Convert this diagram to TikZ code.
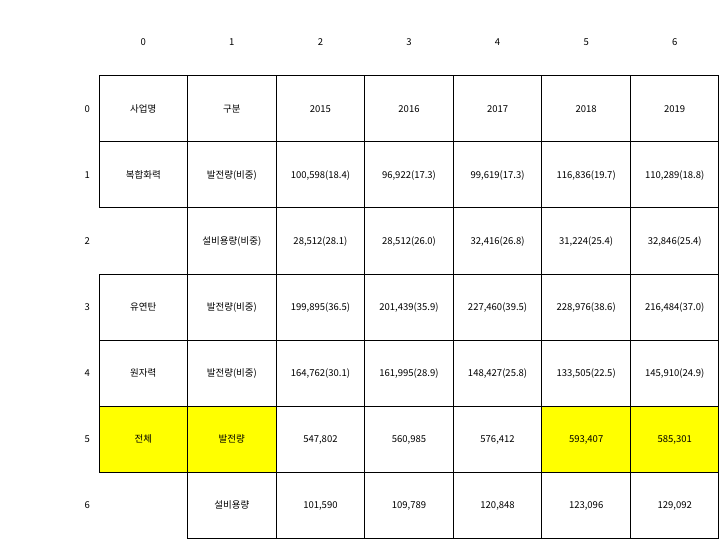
\documentclass[tikz,border=0pt]{standalone}
\usepackage{fontspec}
\setmainfont{Noto Sans CJK KR}
\definecolor{hlyellow}{RGB}{255,255,0}
\begin{document}
\begin{tikzpicture}[x=1pt,y=-1pt,
  cell/.style={draw=black,line width=1pt,rectangle,minimum width=88.57pt,minimum height=66pt,inner sep=0pt,text height=6.8pt,text depth=-1.6pt,font=\fontsize{9.5}{11}\selectfont},
  hl/.style={cell,fill=hlyellow},
  lab/.style={inner sep=0pt,text height=6.8pt,text depth=-1.6pt,font=\fontsize{9.5}{11}\selectfont}]
\useasboundingbox (0,0) rectangle (728,548);
% column headers
\foreach \c in {0,...,6} \node[lab] (h\c) at ({99+88.57*\c+44.285},42) {\c};
% row labels
\foreach \r in {0,...,6} \node[lab,anchor=east] (r\r) at (90,{76+66*\r+33}) {\r};
% cells
\foreach \r/\c/\t/\s in {
 0/0/사업명/cell, 0/1/구분/cell, 0/2/2015/cell, 0/3/2016/cell, 0/4/2017/cell, 0/5/2018/cell, 0/6/2019/cell,
 1/0/복합화력/cell, 1/1/발전량(비중)/cell, 1/2/{100,598(18.4)}/cell, 1/3/{96,922(17.3)}/cell, 1/4/{99,619(17.3)}/cell, 1/5/{116,836(19.7)}/cell, 1/6/{110,289(18.8)}/cell,
 2/1/설비용량(비중)/cell, 2/2/{28,512(28.1)}/cell, 2/3/{28,512(26.0)}/cell, 2/4/{32,416(26.8)}/cell, 2/5/{31,224(25.4)}/cell, 2/6/{32,846(25.4)}/cell,
 3/0/유연탄/cell, 3/1/발전량(비중)/cell, 3/2/{199,895(36.5)}/cell, 3/3/{201,439(35.9)}/cell, 3/4/{227,460(39.5)}/cell, 3/5/{228,976(38.6)}/cell, 3/6/{216,484(37.0)}/cell,
 4/0/원자력/cell, 4/1/발전량(비중)/cell, 4/2/{164,762(30.1)}/cell, 4/3/{161,995(28.9)}/cell, 4/4/{148,427(25.8)}/cell, 4/5/{133,505(22.5)}/cell, 4/6/{145,910(24.9)}/cell,
 5/0/전체/hl, 5/1/발전량/hl, 5/2/{547,802}/cell, 5/3/{560,985}/cell, 5/4/{576,412}/cell, 5/5/{593,407}/hl, 5/6/{585,301}/hl,
 6/1/설비용량/cell, 6/2/{101,590}/cell, 6/3/{109,789}/cell, 6/4/{120,848}/cell, 6/5/{123,096}/cell, 6/6/{129,092}/cell}
 \node[\s] (c\r-\c) at ({99+88.57*\c+44.285},{76+66*\r+33}) {\t};
\end{tikzpicture}
\end{document}
